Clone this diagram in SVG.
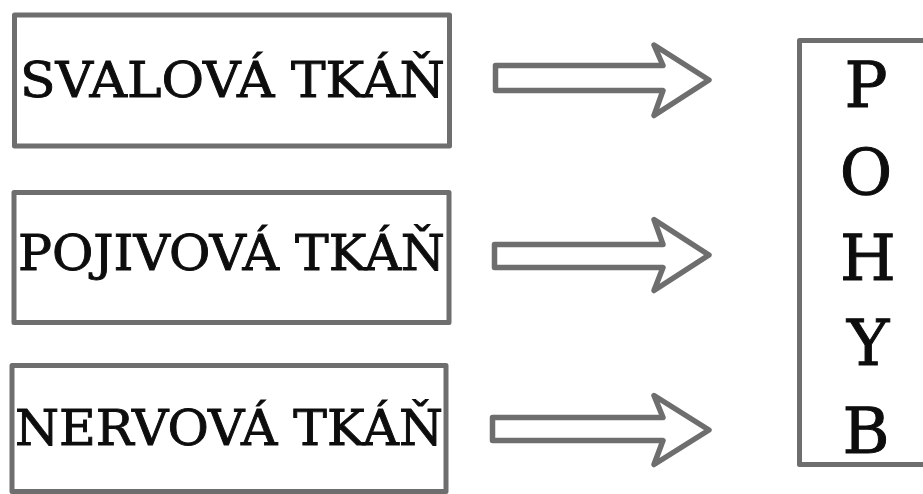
<svg xmlns="http://www.w3.org/2000/svg" width="923" height="494" viewBox="0 0 923 494">
  <style>
    .box { fill: #ffffff; stroke: #6e6e6e; stroke-width: 5; stroke-linejoin: round; }
    .arrow { fill: #ffffff; stroke: #6e6e6e; stroke-width: 5.5; stroke-linejoin: round; }
    .label { font-family: "DejaVu Serif", "Liberation Serif", serif; font-size: 48px; fill: #0d0d0d; stroke: #0d0d0d; stroke-width: 0.9; }
    .letter { font-family: "DejaVu Serif", "Liberation Serif", serif; font-size: 64px; fill: #0d0d0d; stroke: #0d0d0d; stroke-width: 1; text-anchor: middle; }
  </style>
  <rect width="923" height="494" fill="#ffffff"/>

  <g id="svalova">
    <rect class="box" x="14.5" y="15" width="435" height="131"/>
    <text class="label" x="20" y="97" textLength="425" lengthAdjust="spacingAndGlyphs">SVALOVÁ TKÁŇ</text>
  </g>

  <g id="pojivova">
    <rect class="box" x="14" y="192.5" width="435" height="130"/>
    <text class="label" x="18" y="270" textLength="427" lengthAdjust="spacingAndGlyphs">POJIVOVÁ TKÁŇ</text>
  </g>

  <g id="nervova">
    <rect class="box" x="12" y="365.5" width="434" height="126"/>
    <text class="label" x="15" y="445" textLength="428" lengthAdjust="spacingAndGlyphs">NERVOVÁ TKÁŇ</text>
  </g>

  <g id="pohyb">
    <rect class="box" x="799.5" y="40.5" width="140" height="424"/>
    <text class="letter" x="866" y="107">P</text>
    <text class="letter" x="866" y="195">O</text>
    <text class="letter" x="868" y="280">H</text>
    <text class="letter" x="868" y="365">Y</text>
    <text class="letter" x="866" y="453">B</text>
  </g>

  <g id="connectors">
    <path class="arrow" d="M495.5,65.5 H663 L654,45 L709,80 L654,115.5 L663,90.5 H495.5 Z"/>
    <path class="arrow" d="M494.5,244.5 H663 L654,219.5 L709,255 L654,290.5 L663,267.5 H494.5 Z"/>
    <path class="arrow" d="M492.5,417.5 H663 L654,395.5 L709,430 L654,464.5 L663,440.5 H492.5 Z"/>
  </g>
</svg>
